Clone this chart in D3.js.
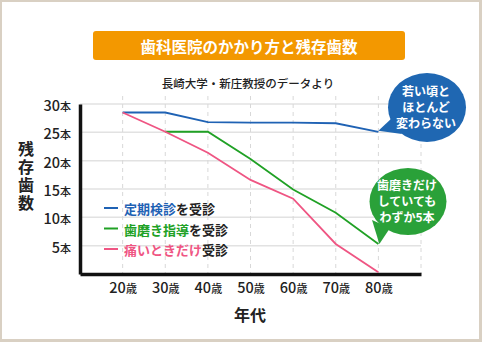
<!DOCTYPE html>
<html><head><meta charset="utf-8">
<script src="https://cdn.jsdelivr.net/npm/d3@7/dist/d3.min.js"></script>
<style>
html,body{margin:0;padding:0;background:#fff;}
svg{display:block;font-family:"Noto Sans CJK JP","Noto Sans",sans-serif;}
</style></head>
<body>
<svg id="chart" width="482" height="342"></svg>
<script>
const ages = [20, 30, 40, 50, 60, 70, 80];
const regularCheckup = [28.5, 28.5, 26.8, 26.7, 26.7, 26.6, 25.1];
const brushingGuidance = [null, 25.1, 25.1, 20.3, 14.9, 10.8, 5.3];
const painOnly = [28.5, 25.1, 21.4, 16.6, 13.3, 5.3, 0.3];
const yTicks = [5, 10, 15, 20, 25, 30];
const gridAges = [20, 30, 40, 50, 60, 70, 80, 90];
const seriesNames = [["定期検診", "を受診"], ["歯磨き指導", "を受診"], ["痛いときだけ", "受診"]];
const seriesColors = ["#1f62b4", "#20a125", "#ef5583"];
const title = "歯科医院のかかり方と残存歯数";
const subtitle = "長崎大学・新庄教授のデータより";
const yLabel = "残存歯数";
const xLabel = "年代";
const bubble1 = ["若い頃と", "ほとんど", "変わらない"];
const bubble2 = ["歯磨きだけ", "していても", "わずか5本"];

const svg = d3.select("#chart");
// frame
svg.append("rect").attr("x",0).attr("y",0).attr("width",482).attr("height",342).attr("fill","#d9d0c3");
svg.append("rect").attr("x",2).attr("y",2).attr("width",477).attr("height",337).attr("fill","#fff");

const x = d3.scaleLinear().domain([10, 90]).range([80, 421]);
const y = d3.scaleLinear().domain([0, 30]).range([274, 104]);

// title box
svg.append("rect").attr("x",93).attr("y",31).attr("width",312).attr("height",29).attr("rx",3)
  .attr("fill","#f39800");
svg.append("text").attr("x",249).attr("y",46).attr("text-anchor","middle").attr("dominant-baseline","central")
  .attr("fill","#fff").attr("font-size",15.5).attr("font-weight",700).text(title);
svg.append("text").attr("x",248).attr("y",83).attr("text-anchor","middle").attr("dominant-baseline","central")
  .attr("fill","#222").attr("font-size",11.5).attr("font-weight",500).text(subtitle);

// grid
svg.append("g").selectAll("line").data(yTicks).join("line")
  .attr("x1", x(10)).attr("x2", x(90)).attr("y1", d=>y(d)).attr("y2", d=>y(d))
  .attr("stroke","#e2e2e2").attr("stroke-width",1.5);
svg.append("g").selectAll("line").data(gridAges).join("line")
  .attr("x1", d=>x(d)).attr("x2", d=>x(d)).attr("y1", 96).attr("y2", y(0))
  .attr("stroke","#d8d8d8").attr("stroke-width",1).attr("stroke-dasharray","4,4");

// axes
const xAxis = svg.append("g").attr("transform",`translate(0,${y(0)})`)
  .call(d3.axisBottom(x).tickValues(ages).tickSize(0).tickPadding(9).tickSizeOuter(0));
xAxis.select(".domain").attr("stroke","#111").attr("stroke-width",3.5);
xAxis.selectAll(".tick text").each(function(d){
  const t = d3.select(this).text("").attr("fill","#222").attr("font-size",14.5).attr("font-weight",500)
    .attr("font-family","'Noto Sans CJK JP',sans-serif");
  t.append("tspan").text(d);
  t.append("tspan").attr("font-size",11).text("歳");
});
const yAxis = svg.append("g").attr("transform",`translate(${x(10)},0)`)
  .call(d3.axisLeft(y).tickValues(yTicks).tickSize(0).tickPadding(9).tickSizeOuter(0));
yAxis.select(".domain").attr("stroke","#111").attr("stroke-width",3.5);
yAxis.selectAll(".tick text").each(function(d){
  const t = d3.select(this).text("").attr("fill","#222").attr("font-size",14.5).attr("font-weight",500)
    .attr("dy","0.45em").attr("font-family","'Noto Sans CJK JP',sans-serif");
  t.append("tspan").text(d);
  t.append("tspan").attr("font-size",11).text("本");
});

// axis labels
svg.append("text").attr("x",26).attr("y",177).attr("text-anchor","middle")
  .style("writing-mode","vertical-rl").attr("letter-spacing",2)
  .attr("font-size",16).attr("font-weight",700).attr("fill","#222").text(yLabel);
svg.append("text").attr("x",250).attr("y",314).attr("text-anchor","middle").attr("dominant-baseline","central")
  .attr("font-size",16).attr("font-weight",700).attr("fill","#222").text(xLabel);

// lines
const line = d3.line().defined(d=>d[1]!=null).x(d=>x(d[0])).y(d=>y(d[1]));
[regularCheckup, brushingGuidance, painOnly].forEach((vals,i)=>{
  svg.append("path").datum(ages.map((a,j)=>[a, vals[j]]))
    .attr("d", line).attr("fill","none").attr("stroke",seriesColors[i]).attr("stroke-width",1.8);
});

// legend
const lg = svg.append("g");
seriesNames.forEach((n,i)=>{
  const yy = 208 + i*20.5;
  lg.append("line").attr("x1",104).attr("x2",118).attr("y1",yy).attr("y2",yy)
    .attr("stroke",seriesColors[i]).attr("stroke-width",2);
  const t = lg.append("text").attr("x",124).attr("y",yy).attr("dominant-baseline","central")
    .attr("font-size",13).attr("font-weight",700);
  t.append("tspan").attr("fill",seriesColors[i]).text(n[0]);
  t.append("tspan").attr("fill","#222").text(n[1]);
});

// bubbles
function bubble(cx, cy, rx, ry, tail, color, lines){
  const g = svg.append("g");
  g.append("path").attr("d", `M${tail[0][0]},${tail[0][1]} L${tail[1][0]},${tail[1][1]} L${tail[2][0]},${tail[2][1]} Z`)
    .attr("fill", color);
  g.append("ellipse").attr("cx",cx).attr("cy",cy).attr("rx",rx).attr("ry",ry).attr("fill",color);
  const t = g.append("text").attr("text-anchor","middle")
    .attr("fill","#fff").attr("font-size",12).attr("font-weight",700);
  lines.forEach((d,i)=>{
    t.append("tspan").attr("x",cx-1).attr("y",cy-16+i*16.3).attr("dy","0.35em").text(d);
  });
}
bubble(427, 107.5, 39, 34.5, [[392,118],[x(80),y(regularCheckup[6])-1],[402,134]], "#1f67b2", bubble1);
bubble(408, 201.5, 38.5, 33.5, [[372,220],[x(80)+1,y(brushingGuidance[6])],[390,228]], "#2aa139", bubble2);
</script>
</body></html>
